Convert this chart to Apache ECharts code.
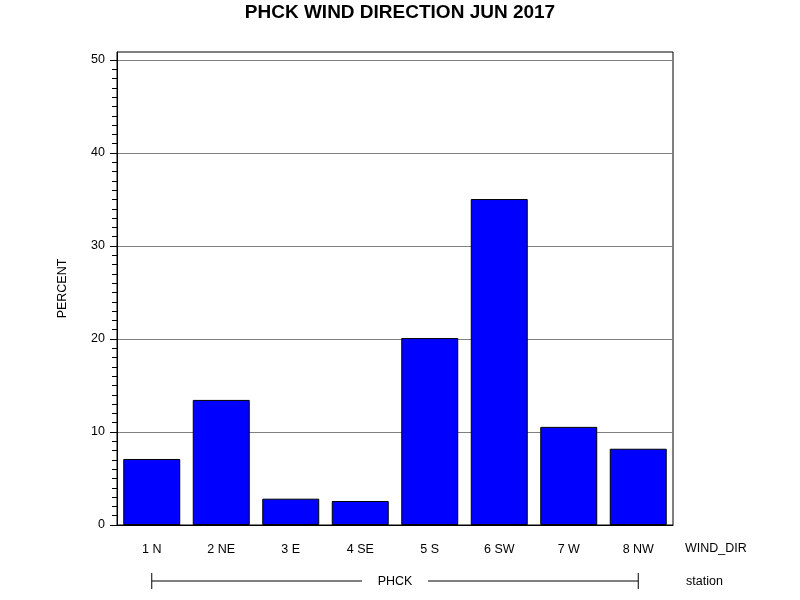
<!DOCTYPE html>
<html>
<head>
<meta charset="utf-8">
<script src="https://cdn.jsdelivr.net/npm/echarts@6/dist/echarts.min.js"></script>
<style>html,body{margin:0;padding:0;background:#fff}#c{width:800px;height:600px}</style>
</head>
<body>
<div id="c"></div>
<script>
const titleText = 'PHCK WIND DIRECTION JUN 2017';
const categories = ['1 N', '2 NE', '3 E', '4 SE', '5 S', '6 SW', '7 W', '8 NW'];
const percentValues = [7.1, 13.45, 2.83, 2.58, 20.1, 35.05, 10.55, 8.2];
const majorTickValues = [0, 10, 20, 30, 40, 50];
const minorTickValues = [];
for (let v = 1; v < 50; v++) { if (v % 10 !== 0) minorTickValues.push(v); }
const groupLabel = 'PHCK';
const xAxisName = 'WIND_DIR';
const groupAxisName = 'station';
const yAxisName = 'PERCENT';
const yMax = 50.86;

const font = 'Arial, "Liberation Sans", sans-serif';
const chart = echarts.init(document.getElementById('c'), null, {renderer: 'canvas'});

const option = {
  animation: false,
  backgroundColor: '#ffffff',
  title: {
    text: titleText,
    left: 'center',
    top: -2,
    textStyle: {fontFamily: font, fontSize: 19, fontWeight: 'bold', color: '#000'}
  },
  grid: {
    left: 117, right: 127, top: 52, bottom: 75,
    show: true, borderColor: '#000', borderWidth: 1, backgroundColor: '#fff'
  },
  xAxis: {
    type: 'category',
    data: categories,
    axisLine: {lineStyle: {color: '#000', width: 1}},
    axisTick: {show: false},
    axisLabel: {margin: 18, color: '#000', fontFamily: font, fontSize: 12.5},
    splitLine: {show: false}
  },
  yAxis: [{
    type: 'value',
    min: 0, max: yMax,
    position: 'left',
    name: yAxisName,
    nameLocation: 'middle',
    nameGap: 48,
    nameRotate: 90,
    nameTextStyle: {color: '#000', fontFamily: font, fontSize: 12.5},
    axisLine: {show: true, lineStyle: {color: '#000', width: 1}},
    axisTick: {show: true, length: 7, customValues: majorTickValues, lineStyle: {color: '#000', width: 1}},
    axisLabel: {customValues: majorTickValues, margin: 12, color: '#000', fontFamily: font, fontSize: 12.5},
    splitLine: {show: true, lineStyle: {color: '#808080', width: 1}},
    minorTick: {show: false}
  }, {
    type: 'value',
    min: 0, max: yMax,
    position: 'left',
    axisLine: {show: false},
    axisTick: {show: true, length: 5, customValues: minorTickValues, lineStyle: {color: '#000', width: 1}},
    axisLabel: {show: false},
    splitLine: {show: false}
  }],
  series: [{
    type: 'bar',
    data: percentValues,
    yAxisIndex: 0,
    barWidth: '82%',
    itemStyle: {color: '#0000ff', borderColor: '#000', borderWidth: 1}
  }]
};
chart.setOption(option);

function drawGroupAxis() {
  const x0 = chart.convertToPixel({xAxisIndex: 0}, categories[0]);
  const x1 = chart.convertToPixel({xAxisIndex: 0}, categories[categories.length - 1]);
  const y = 581;
  const mid = (x0 + x1) / 2;
  const gapHalf = 33;
  const ts = {fill: '#000', font: '12.5px ' + font};
  chart.setOption({
    graphic: [
      {type: 'line', shape: {x1: x0, y1: y, x2: mid - gapHalf, y2: y}, style: {stroke: '#000', lineWidth: 1}},
      {type: 'line', shape: {x1: mid + gapHalf, y1: y, x2: x1, y2: y}, style: {stroke: '#000', lineWidth: 1}},
      {type: 'line', shape: {x1: x0, y1: y - 8, x2: x0, y2: y + 8}, style: {stroke: '#000', lineWidth: 1}},
      {type: 'line', shape: {x1: x1, y1: y - 8, x2: x1, y2: y + 8}, style: {stroke: '#000', lineWidth: 1}},
      {type: 'text', x: mid, y: y + 1, style: Object.assign({text: groupLabel, align: 'center', verticalAlign: 'middle'}, ts)},
      {type: 'text', x: 685, y: 549, style: Object.assign({text: xAxisName, align: 'left', verticalAlign: 'middle'}, ts)},
      {type: 'text', x: 686, y: 582, style: Object.assign({text: groupAxisName, align: 'left', verticalAlign: 'middle'}, ts)}
    ]
  });
}
drawGroupAxis();
</script>
</body>
</html>
